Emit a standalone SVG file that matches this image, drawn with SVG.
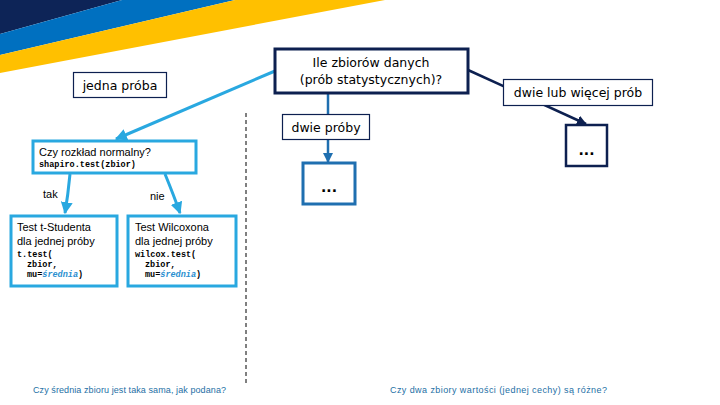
<svg xmlns="http://www.w3.org/2000/svg" width="720" height="405" viewBox="0 0 720 405">
<defs>
<style>
.lbl{font-family:"DejaVu Sans",Verdana,sans-serif;font-size:12.5px;fill:#000}
.txt{font-family:"Liberation Sans",Arial,sans-serif;font-size:11px;fill:#000}
.code{font-family:"Liberation Mono","Courier New",monospace;font-size:8.5px;font-weight:bold;fill:#000}
.it{font-style:italic;fill:#2a8fd0}
.foot{font-family:"Liberation Sans",Arial,sans-serif;font-size:9px;fill:#1d6fa5}
.thin{fill:#fff;stroke:#0d2050;stroke-width:1.2}
.cyanbox{fill:#fff;stroke:#29a8e0;stroke-width:3}
.dots{font-family:"DejaVu Sans",sans-serif;font-size:14px;font-weight:bold;fill:#000}
</style>
<marker id="aCyan" viewBox="0 0 10 10" refX="9" refY="5" markerWidth="4" markerHeight="4" orient="auto"><path d="M0,0 L10,5 L0,10 z" fill="#29a8e0"/></marker>
<marker id="aBlue" viewBox="0 0 10 10" refX="9" refY="5" markerWidth="4" markerHeight="4" orient="auto"><path d="M0,0 L10,5 L0,10 z" fill="#1f6fb0"/></marker>
<marker id="aNavy" viewBox="0 0 10 10" refX="9" refY="5" markerWidth="4" markerHeight="4" orient="auto"><path d="M0,0 L10,5 L0,10 z" fill="#0d2050"/></marker>
</defs>
<rect width="720" height="405" fill="#fff"/>
<g id="banner">
<polygon points="0,0 122,0 0,34" fill="#0d2457"/>
<polygon points="122,0 235,0 0,55 0,34" fill="#0070c0"/>
<polygon points="235,0 385,0 0,73 0,55" fill="#ffc000"/>
</g>
<g id="connectors" fill="none">
<line x1="275" y1="71" x2="116" y2="139" stroke="#29a8e0" stroke-width="3" marker-end="url(#aCyan)"/>
<line x1="328" y1="93" x2="328" y2="162" stroke="#1f6fb0" stroke-width="2.5" marker-end="url(#aBlue)"/>
<line x1="468" y1="70" x2="586" y2="124" stroke="#0d2050" stroke-width="2.5" marker-end="url(#aNavy)"/>
<path d="M70,174 Q68,195 65,213" stroke="#29a8e0" stroke-width="3" marker-end="url(#aCyan)"/>
<path d="M165,174 Q174,196 180,213" stroke="#29a8e0" stroke-width="3" marker-end="url(#aCyan)"/>
<line x1="246" y1="113" x2="246" y2="383" stroke="#000" stroke-width="1" stroke-dasharray="4,3"/>
</g>
<g id="main">
<rect x="275" y="49" width="193" height="44" fill="#fff" stroke="#0d2050" stroke-width="3"/>
<text class="lbl" x="371" y="67" text-anchor="middle">Ile zbiorów danych</text>
<text class="lbl" x="371" y="84" text-anchor="middle">(prób statystycznych)?</text>
</g>
<g id="jedna">
<rect class="thin" x="73.5" y="72.5" width="93" height="25"/>
<text class="lbl" x="120" y="90" text-anchor="middle">jedna próba</text>
</g>
<g id="dwieLub">
<rect class="thin" x="503.5" y="79.5" width="149" height="26"/>
<text class="lbl" x="578" y="97" text-anchor="middle">dwie lub więcej prób</text>
</g>
<g id="dwie">
<rect class="thin" x="282.5" y="114.5" width="87" height="25"/>
<text class="lbl" x="326" y="132" text-anchor="middle">dwie próby</text>
</g>
<g id="dotsBlue">
<rect x="303" y="163" width="52" height="41" fill="#fff" stroke="#1f6fb0" stroke-width="3"/>
<text class="dots" x="329" y="192" text-anchor="middle">...</text>
</g>
<g id="dotsNavy">
<rect x="566" y="125" width="41" height="41" fill="#fff" stroke="#0d2050" stroke-width="2.5"/>
<text class="dots" x="586.5" y="155" text-anchor="middle">...</text>
</g>
<g id="normal">
<rect class="cyanbox" x="33" y="141" width="163" height="32"/>
<text class="txt" x="39" y="156">Czy rozkład normalny?</text>
<text class="code" x="39" y="167">shapiro.test(zbior)</text>
</g>
<text class="txt" x="43" y="198">tak</text>
<text class="txt" x="150" y="200">nie</text>
<g id="tstudent">
<rect class="cyanbox" x="11" y="216" width="106" height="70"/>
<text class="txt" x="17" y="231">Test t-Studenta</text>
<text class="txt" x="17" y="245">dla jednej próby</text>
<text class="code" x="17" y="257">t.test(</text>
<text class="code" x="27" y="267">zbior,</text>
<text class="code" x="27" y="277">mu=<tspan class="it">średnia</tspan>)</text>
</g>
<g id="wilcoxon">
<rect class="cyanbox" x="128" y="216" width="108" height="70"/>
<text class="txt" x="135" y="231">Test Wilcoxona</text>
<text class="txt" x="135" y="245">dla jednej próby</text>
<text class="code" x="135" y="257">wilcox.test(</text>
<text class="code" x="145" y="267">zbior,</text>
<text class="code" x="145" y="277">mu=<tspan class="it">średnia</tspan>)</text>
</g>
<text class="foot" x="33" y="393" textLength="193">Czy średnia zbioru jest taka sama, jak podana?</text>
<text class="foot" x="390" y="393" textLength="217">Czy dwa zbiory wartości (jednej cechy) są różne?</text>
</svg>
